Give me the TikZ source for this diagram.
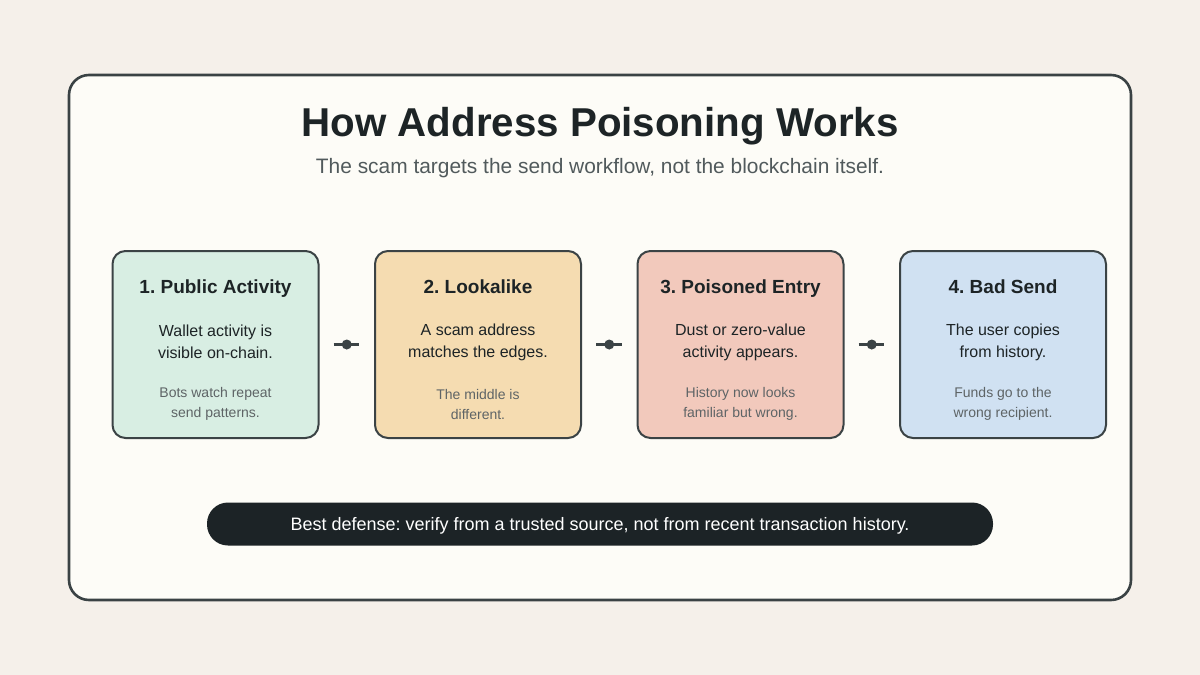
\documentclass[tikz,border=0pt]{standalone}
\usepackage{fontspec}
\setmainfont{Liberation Sans}
\frenchspacing
\begin{document}
\begin{tikzpicture}[x=1pt,y=-1pt,
  frame/.style={draw=framec,line width=2.6pt,fill=paper,rounded corners=20pt},
  stepbox/.style={draw=boxline,line width=2pt,rounded corners=13pt,minimum width=206pt,minimum height=187pt,inner sep=0pt},
  stitle/.style={font=\fontsize{19}{22}\selectfont\bfseries,text=ink,anchor=base},
  sbody/.style={font=\fontsize{16}{22}\selectfont,text=ink,align=center},
  snote/.style={font=\fontsize{14}{20}\selectfont,text=note,align=center},
  link/.style={draw=boxline,line width=3.5pt,shorten <=14pt,shorten >=15pt},
  dotc/.style={circle,fill=boxline,inner sep=0pt,minimum size=10pt}
]
\definecolor{bg}{HTML}{F5F0EA}
\definecolor{paper}{HTML}{FDFCF7}
\definecolor{framec}{HTML}{3A4244}
\definecolor{boxline}{HTML}{3B4345}
\definecolor{ink}{HTML}{1D2426}
\definecolor{note}{HTML}{5E6466}
\definecolor{subc}{HTML}{515A5C}
\definecolor{cA}{HTML}{D8EEE3}
\definecolor{cB}{HTML}{F5DCB1}
\definecolor{cC}{HTML}{F2C9BC}
\definecolor{cD}{HTML}{D0E1F2}
\definecolor{bar}{HTML}{1C2326}
\fill[bg] (0,0) rectangle (1200,675);
\useasboundingbox (0,0) rectangle (1200,675);
\node[frame,minimum width=1062pt,minimum height=525pt,inner sep=0pt] (frame) at (600,337.5) {};
\node[font=\fontsize{40.3}{44}\selectfont\bfseries,text=ink] (title) at (600,126) {How Address Poisoning Works};
\node[font=\fontsize{20.9}{24}\selectfont,text=subc] (sub) at (600,168) {The scam targets the send workflow, not the blockchain itself.};
\node[stepbox,fill=cA] (b1) at (215.5,344.5) {};
\node[stepbox,fill=cB] (b2) at (478,344.5) {};
\node[stepbox,fill=cC] (b3) at (740.5,344.5) {};
\node[stepbox,fill=cD] (b4) at (1003,344.5) {};
\foreach \b/\t/\x/\y in {b1/{1. Public Activity}/{Wallet activity is\\visible on-chain.}/{Bots watch repeat\\send patterns.},
  b2/{2. Lookalike}/{A scam address\\matches the edges.}/{The middle is\\different.},
  b3/{3. Poisoned Entry}/{Dust or zero-value\\activity appears.}/{History now looks\\familiar but wrong.},
  b4/{4. Bad Send}/{The user copies\\from history.}/{Funds go to the\\wrong recipient.}}{
  \node[stitle] (\b t) at ([yshift=51pt]\b.center) {\t};
  \node[sbody] (\b x) at ([yshift=2.5pt]\b.center) {\x};
  \node[snote] (\b n) at ([yshift=-59.5pt]\b.center) {\y};
}
\foreach \a/\c in {b1/b2,b2/b3,b3/b4}{
  \draw[link] (\a.east) -- (\c.west) node[dotc,pos=0.5] (\a d) {};
}
\node[fill=bar,rounded corners=21pt,minimum width=786pt,minimum height=43pt,inner sep=0pt] (tip) at (600,524) {};
\node[text=white,font=\fontsize{18}{20}\selectfont] (tiptext) at (600,526) {Best defense: verify from a trusted source, not from recent transaction history.};
\end{tikzpicture}
\end{document}
